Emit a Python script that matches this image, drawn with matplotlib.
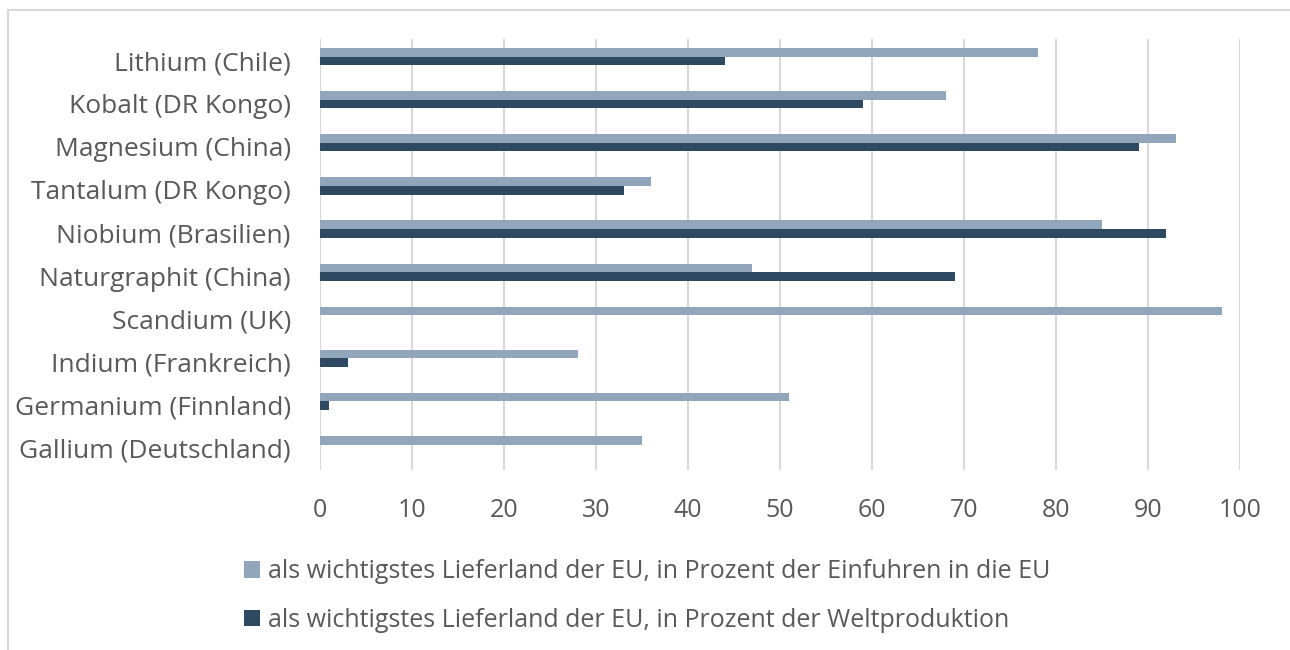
import numpy as np
import matplotlib.pyplot as plt
from matplotlib.patches import Rectangle

categories = ['Lithium (Chile)', 'Kobalt (DR Kongo)', 'Magnesium (China)',
              'Tantalum (DR Kongo)', 'Niobium (Brasilien)', 'Naturgraphit (China)',
              'Scandium (UK)', 'Indium (Frankreich)', 'Germanium (Finnland)',
              'Gallium (Deutschland)']
imports_share = [78, 68, 93, 36, 85, 47, 98, 28, 51, 35]
world_share = [44, 59, 89, 33, 92, 69, 0, 3, 1, 0]
label_imports = 'als wichtigstes Lieferland der EU, in Prozent der Einfuhren in die EU'
label_world = 'als wichtigstes Lieferland der EU, in Prozent der Weltproduktion'

light = '#91A6BA'
dark = '#2E4962'
text_col = '#595959'

plt.rcParams['font.family'] = ['Open Sans', 'DejaVu Sans']

fig = plt.figure(figsize=(12.9, 6.5), dpi=100)
ax = fig.add_axes([320 / 1290, 1 - 470 / 650, 920 / 1290, 431 / 650])

y = np.arange(len(categories))
h = 0.2
shift = -0.09  # Excel draws the pairs slightly above the category centre
ax.barh(y - h / 2 + shift, imports_share, height=h, color=light, label=label_imports, zorder=3)
ax.barh(y + h / 2 + shift, world_share, height=h, color=dark, label=label_world, zorder=3)

ax.set_xlim(0, 100)
ax.set_ylim(len(categories) - 0.5, -0.5)
ax.set_xticks(range(0, 101, 10))
ax.set_yticks(y)
ax.set_yticklabels(categories)
ax.tick_params(axis='both', length=0, colors=text_col)
ax.tick_params(axis='x', pad=20, labelsize=18)
ax.tick_params(axis='y', pad=21, labelsize=19)
ax.grid(axis='x', color='#D9D9D9', linewidth=1.5, zorder=0)
for s in ax.spines.values():
    s.set_visible(False)

leg = fig.legend(loc='upper left', bbox_to_anchor=(234 / 1290, 1 - 549 / 650),
                 frameon=False, fontsize=18, labelcolor=text_col,
                 handlelength=0.65, handleheight=0.65, handletextpad=0.3,
                 labelspacing=0.95, borderaxespad=0)

fig.patches.append(Rectangle((8 / 1290, -0.05), 1.1, 1 - 9.5 / 650 + 0.05,
                             transform=fig.transFigure, fill=False,
                             edgecolor='#D9D9D9', linewidth=1.5))

fig.savefig('out.png', dpi=100)
